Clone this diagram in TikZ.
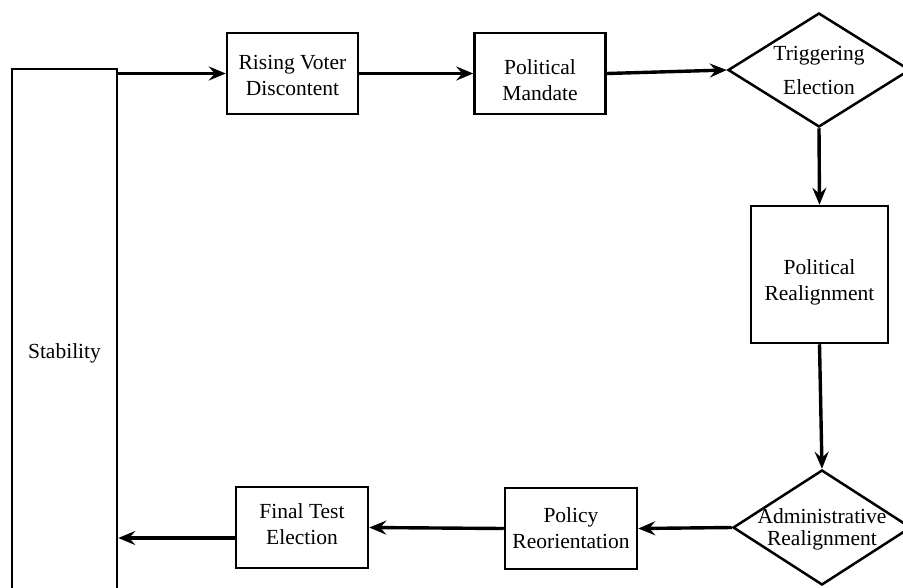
\documentclass[tikz,border=0pt]{standalone}
\usepackage{fontspec}
\setmainfont{Liberation Serif}
\usetikzlibrary{shapes.geometric,arrows.meta}
\tikzset{
  box/.style={draw, line width=2.5pt, rectangle, inner sep=0pt},
  dia/.style={draw, line width=2.5pt, diamond, inner sep=0pt},
  txt/.style={align=center, inner sep=0pt, font=\fontsize{21.5}{26}\selectfont},
  flow/.style={line width=3.4pt, -{Stealth[length=17pt,width=14pt,inset=6pt]}}
}
\begin{document}
\begin{tikzpicture}[x=1pt,y=-1pt]
\useasboundingbox (0,0) rectangle (903,587);
% shapes
\node[box, minimum width=105pt, minimum height=571pt] (stab) at (64.5,354.5) {};
\node[box, minimum width=131pt, minimum height=81pt] (rvd) at (292.5,73.5) {};
\node[box, minimum width=131pt, minimum height=81pt] (pm) at (540,73.5) {};
\node[dia, minimum width=182pt, minimum height=114pt] (te) at (819,70) {};
\node[box, minimum width=137pt, minimum height=137pt] (pr) at (819.5,274.5) {};
\node[dia, minimum width=178pt, minimum height=115pt] (ar) at (822,527.5) {};
\node[box, minimum width=132pt, minimum height=81pt] (po) at (571,528.5) {};
\node[box, minimum width=132pt, minimum height=81pt] (ft) at (302,527.5) {};
% texts
\node[txt] (stabt) at (64.5,353) {Stability};
\node[txt] (rvdt) at (292.5,75) {Rising Voter\\Discontent};
\node[txt] (pmt) at (540,80) {Political\\Mandate};
\node[txt, font=\fontsize{21.5}{34}\selectfont] (tet) at (819,70.5) {Triggering\\Election};
\node[txt] (prt) at (819.5,282.5) {Political\\Realignment};
\node[txt, font=\fontsize{21.5}{22.5}\selectfont] (art) at (822,529.5) {Administrative\\Realignment};
\node[txt] (pot) at (571,528) {Policy\\Reorientation};
\node[txt] (ftt) at (302,524.5) {Final Test\\Election};
% connectors
\draw[flow] (stab.east |- rvd.west) -- (rvd.west);
\draw[flow] (rvd.east) -- (pm.west);
\draw[flow] (pm.east) -- (te.west);
\draw[flow] (te.south) -- (pr.north);
\draw[flow] (pr.south) -- (ar.north);
\draw[flow] (ar.west) -- (po.east);
\draw[flow] (po.west) -- (ft.east);
\coordinate (fto) at (236,538);
\draw[flow] (fto) -- (stab.east |- fto);
\end{tikzpicture}
\end{document}
